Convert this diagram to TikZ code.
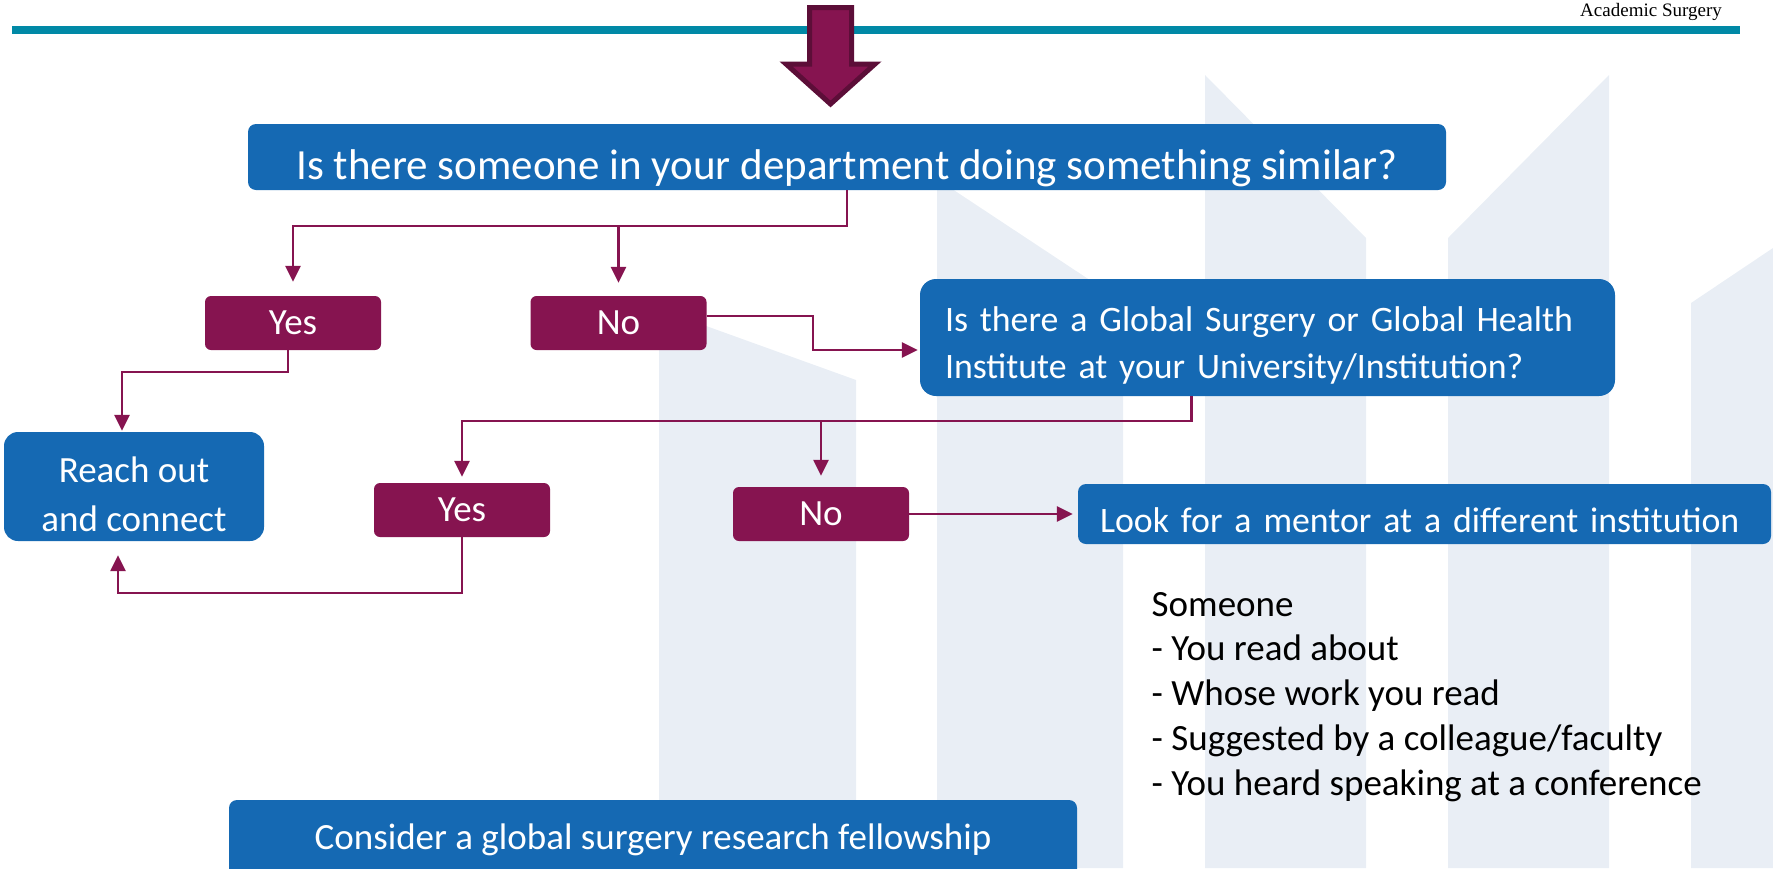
\documentclass[tikz,border=0pt]{standalone}
\usepackage{fontspec}
\setmainfont{Carlito}
\newfontfamily\mastheadfont{Liberation Serif}
\usetikzlibrary{arrows.meta}

\definecolor{boxblue}{HTML}{1569B3}
\definecolor{answerred}{HTML}{861450}
\definecolor{answerdark}{HTML}{5C0E38}
\definecolor{rulecolor}{HTML}{0089A6}
\definecolor{markcolor}{HTML}{E9EEF5}

\tikzset{
  question/.style={fill=boxblue,text=white,rounded corners=8pt,inner sep=0pt,
    font=\fontsize{37}{47}\selectfont},
  answer/.style={fill=answerred,text=white,rounded corners=6pt,inner sep=0pt,
    minimum width=176pt,minimum height=54pt,font=\fontsize{37}{47}\selectfont},
  link/.style={draw=answerred,line width=2.5pt,-{Triangle[length=16pt,width=15pt]}},
}

\begin{document}
\begin{tikzpicture}[x=1pt,y=-1pt]
 \useasboundingbox (0,0) rectangle (1773,868);
 % logo stripes in the background
 \fill [markcolor] (659,309) -- (856,380) -- (856,868) -- (659,868) -- cycle;
 \fill [markcolor] (937,179) -- (1123,302) -- (1123,868) -- (937,868) -- cycle;
 \fill [markcolor] (1205,75) -- (1366,238) -- (1366,868) -- (1205,868) -- cycle;
 \fill [markcolor] (1448,238) -- (1609,75) -- (1609,868) -- (1448,868) -- cycle;
 \fill [markcolor] (1691,303) -- (1773,248) -- (1773,868) -- (1691,868) -- cycle;
 % header
 \fill [rulecolor] (12,26) rectangle (1740,34);
 \node [anchor=base east,inner sep=0pt,font=\mastheadfont\fontsize{19}{19}\selectfont] (masthead) at (1722,16) {Academic Surgery};
 \filldraw [fill=answerred,draw=answerdark,line width=5pt]
   (809.5,7.5) -- (851.5,7.5) -- (851.5,64) -- (875,64) -- (830.5,104) -- (786,64) -- (809.5,64) -- cycle;
 % boxes
 \node [question,minimum width=1198pt,minimum height=66pt,text height=44pt,text depth=0pt,
   font=\fontsize{43}{47}\selectfont] (q1) at (847,157) {Is there someone in your department doing something similar?};
 \node [answer] (yes1) at (293,323) {Yes};
 \node [answer] (no1) at (618.5,323) {No};
 \node [question,rounded corners=14pt,align=center,minimum width=260pt,minimum height=109pt,
   text height=90pt,text depth=0pt,font=\fontsize{37}{48.6}\selectfont] (reach) at (134,486.5) {Reach out\\and connect};
 \node [question,rounded corners=16pt,align=left,text width=645pt,inner xsep=25pt,minimum height=117pt,
   text height=34pt,text depth=47pt,font=\fontsize{35.8}{47}\selectfont] (q2) at (1267.5,337.5)
   {Is there a Global Surgery or Global Health\\Institute at your University/Institution?};
 \node [answer] (yes2) at (462,510) {Yes};
 \node [answer] (no2) at (821,514) {No};
 \node [question,align=left,text width=649pt,inner xsep=22pt,minimum height=60pt,
   text height=36pt,text depth=0pt,font=\fontsize{35.8}{47}\selectfont] (look) at (1424.5,514) {Look for a mentor at a different institution};
 \node [anchor=north west,align=left,inner sep=0pt,font=\fontsize{37}{44.7}\selectfont] (hints) at (1151.5,592)
   {Someone\\- You read about\\- Whose work you read\\- Suggested by a colleague/faculty\\- You heard speaking at a conference};
 \node [question,minimum width=848pt,minimum height=80pt] (fellow) at (653,840) {Consider a global surgery research fellowship};
 % connectors
 \coordinate (j1) at (0,226);
 \coordinate (j2) at (0,372);
 \coordinate (j4) at (0,421);
 \coordinate (j5) at (0,593);
 \coordinate (reachin) at ([xshift=-12pt]reach.north);
 \coordinate (reachback) at ([xshift=-16pt]reach.south);
 \coordinate (q2out) at ([xshift=-76pt]q2.south);
 \draw [link,shorten >=14pt] (q1.south) |- (yes1.north |- j1) -- (yes1.north);
 \draw [link,shorten >=13pt] (no1.north |- j1) -- (no1.north);
 \draw [link,shorten >=1pt] ([xshift=-5pt]yes1.south) |- (reachin |- j2) -- (reachin);
 \draw [link,shorten >=2pt] ([yshift=7pt]no1.east) -- ++(106.5,0) |- ([yshift=-12.5pt]q2.west);
 \draw [link,shorten >=6pt] (q2out) |- (yes2.north |- j4) -- (yes2.north);
 \draw [link,shorten >=11pt] (no2.north |- j4) -- (no2.north);
 \draw [link,shorten >=14pt] (yes2.south) |- (reachback |- j5) -- (reachback);
 \draw [link,shorten >=5pt] (no2.east) -- (no2.east -| look.west);
\end{tikzpicture}
\end{document}
